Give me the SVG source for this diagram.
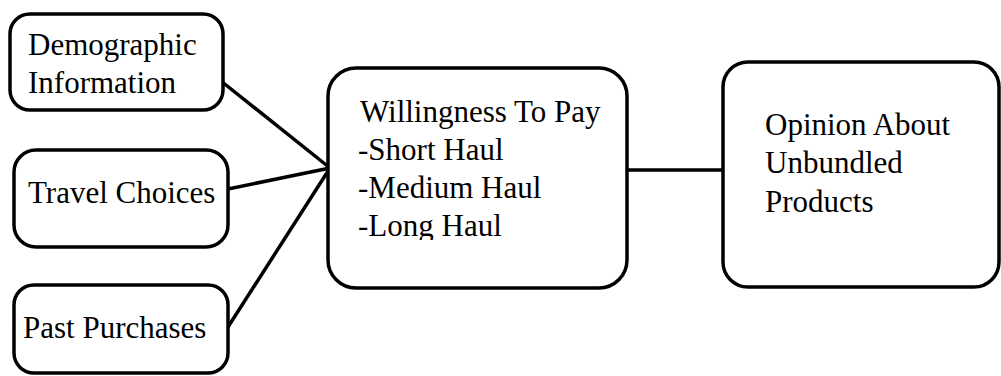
<svg xmlns="http://www.w3.org/2000/svg" width="1001" height="376" viewBox="0 0 1001 376">
<style>
.box{fill:#fff;stroke:#000;stroke-width:3.5}
.t{font-family:"Liberation Serif","Times New Roman",serif;font-size:31px;fill:#000}
.c{stroke:#000;stroke-width:3.5;fill:none}
</style>
<defs>
<clipPath id="clipLong"><rect x="330" y="70" width="295" height="170"/></clipPath>
</defs>
<rect width="1001" height="376" fill="#fff"/>
<g id="connectors">
<line class="c" x1="221" y1="81" x2="330" y2="168"/>
<line class="c" x1="228" y1="189" x2="330" y2="168"/>
<line class="c" x1="228" y1="327" x2="330" y2="168"/>
<line class="c" x1="627" y1="170" x2="723" y2="170"/>
</g>
<g id="demographic">
<rect class="box" x="10" y="14" width="213" height="96" rx="20"/>
<text class="t" x="28" y="55">Demographic</text>
<text class="t" x="28" y="93">Information</text>
</g>
<g id="travel">
<rect class="box" x="14" y="150" width="214" height="97" rx="22"/>
<text class="t" x="28" y="203">Travel Choices</text>
</g>
<g id="past">
<rect class="box" x="14" y="285" width="214" height="88" rx="20"/>
<text class="t" x="23" y="338">Past Purchases</text>
</g>
<g id="wtp">
<rect class="box" x="328" y="68" width="299" height="220" rx="28"/>
<text class="t" x="360" y="122">Willingness To Pay</text>
<text class="t" x="358" y="160">-Short Haul</text>
<text class="t" x="358" y="198">-Medium Haul</text>
<text class="t" x="358" y="236" clip-path="url(#clipLong)">-Long Haul</text>
</g>
<g id="opinion">
<rect class="box" x="723" y="62" width="276" height="225" rx="25"/>
<text class="t" x="765" y="135">Opinion About</text>
<text class="t" x="765" y="173">Unbundled</text>
<text class="t" x="765" y="212">Products</text>
</g>
</svg>
